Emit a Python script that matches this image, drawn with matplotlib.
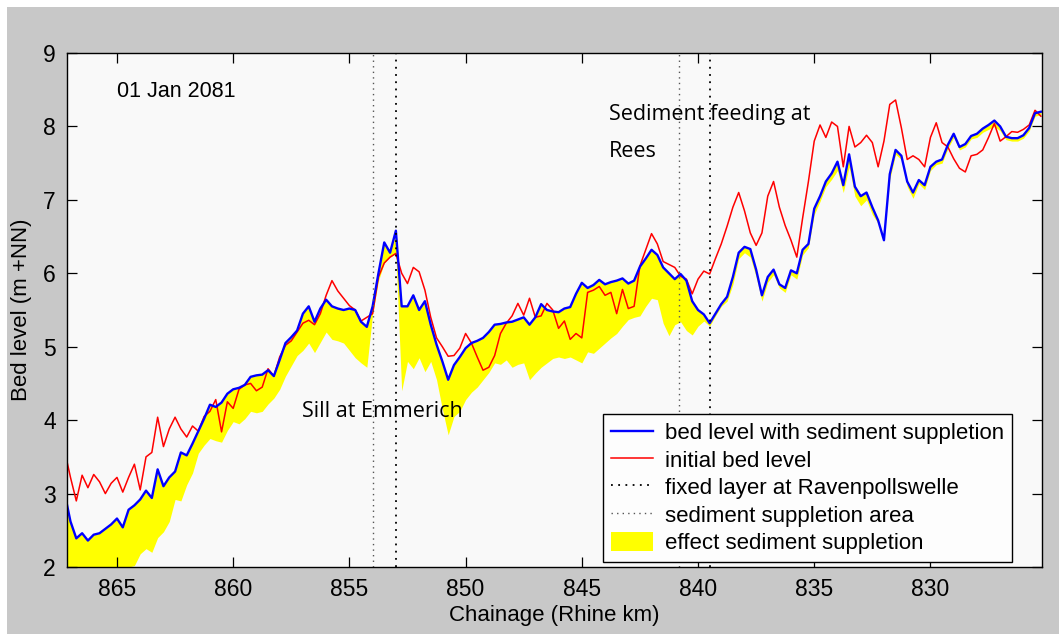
import numpy as np
import matplotlib
matplotlib.use("Agg")
import matplotlib.pyplot as plt
from matplotlib.patches import Rectangle

plt.rcParams["font.family"] = ["Liberation Sans", "DejaVu Sans"]

# Rhine km, every 0.25 km (river runs from 867 down to 825)
chainage = np.arange(867.25, 825.0, -0.25)

# bed level with sediment suppletion (m +NN)
bed_suppl = [
    3.00, 2.62, 2.39, 2.46, 2.36, 2.44, 2.46, 2.52, 2.58, 2.66,
    2.54, 2.78, 2.84, 2.92, 3.04, 2.94, 3.33, 3.10, 3.22, 3.30,
    3.56, 3.52, 3.68, 3.85, 4.02, 4.21, 4.18, 4.24, 4.36, 4.42,
    4.44, 4.48, 4.59, 4.61, 4.62, 4.68, 4.60, 4.82, 5.05, 5.13,
    5.22, 5.45, 5.55, 5.34, 5.52, 5.64, 5.55, 5.52, 5.50, 5.52,
    5.50, 5.34, 5.27, 5.55, 6.00, 6.42, 6.28, 6.58, 5.55, 5.55,
    5.70, 5.50, 5.62, 5.30, 5.03, 4.80, 4.55, 4.75, 4.86, 4.98,
    5.05, 5.08, 5.12, 5.20, 5.30, 5.31, 5.33, 5.34, 5.37, 5.40,
    5.30, 5.40, 5.58, 5.50, 5.48, 5.47, 5.52, 5.54, 5.72, 5.87,
    5.80, 5.84, 5.91, 5.85, 5.88, 5.90, 5.93, 5.86, 5.90, 6.09,
    6.20, 6.32, 6.25, 6.08, 6.00, 5.92, 5.99, 5.90, 5.62, 5.50,
    5.44, 5.32, 5.45, 5.58, 5.68, 5.95, 6.28, 6.36, 6.33, 6.05,
    5.70, 5.95, 6.05, 5.85, 5.80, 6.04, 6.00, 6.32, 6.40, 6.88,
    7.05, 7.25, 7.36, 7.52, 7.20, 7.62, 7.18, 7.05, 7.10, 6.90,
    6.72, 6.45, 7.35, 7.68, 7.60, 7.25, 7.10, 7.27, 7.20, 7.45,
    7.52, 7.55, 7.75, 7.90, 7.72, 7.76, 7.87, 7.90, 7.97, 8.02,
    8.08, 8.00, 7.86, 7.84, 7.84, 7.88, 7.98, 8.18, 8.20,
]

# initial bed level (m +NN)
bed_initial = [
    3.58, 3.22, 2.90, 3.25, 3.08, 3.26, 3.16, 3.00, 3.14, 3.22,
    3.02, 3.22, 3.40, 3.05, 3.50, 3.56, 4.04, 3.64, 3.88, 4.04,
    3.88, 3.77, 3.92, 3.85, 4.05, 4.12, 4.28, 3.84, 4.25, 4.16,
    4.42, 4.48, 4.50, 4.40, 4.45, 4.70, 4.60, 4.86, 5.02, 5.08,
    5.20, 5.32, 5.36, 5.30, 5.45, 5.70, 5.90, 5.76, 5.66, 5.56,
    5.50, 5.35, 5.40, 5.45, 5.95, 6.14, 6.22, 6.27, 6.00, 5.86,
    6.08, 6.02, 5.77, 5.40, 5.12, 5.00, 4.87, 4.88, 4.98, 5.18,
    5.05, 4.86, 4.68, 4.72, 4.88, 5.18, 5.32, 5.42, 5.59, 5.43,
    5.66, 5.40, 5.42, 5.59, 5.50, 5.25, 5.35, 5.10, 5.18, 5.12,
    5.74, 5.77, 5.82, 5.70, 5.74, 5.45, 5.78, 5.52, 5.55, 6.10,
    6.32, 6.54, 6.40, 6.16, 6.12, 6.08, 5.96, 5.92, 5.72, 5.92,
    6.03, 5.99, 6.20, 6.40, 6.64, 6.90, 7.10, 6.85, 6.55, 6.38,
    6.55, 7.05, 7.25, 6.90, 6.65, 6.45, 6.22, 6.75, 7.25, 7.80,
    8.02, 7.85, 8.06, 8.00, 7.45, 8.00, 7.72, 7.78, 7.88, 7.78,
    7.45, 7.80, 8.30, 8.36, 7.98, 7.55, 7.60, 7.55, 7.45, 7.85,
    8.05, 7.78, 7.72, 7.56, 7.43, 7.38, 7.60, 7.62, 7.68, 7.85,
    8.04, 7.80, 7.86, 7.93, 7.92, 7.96, 8.02, 8.22, 8.14,
]

# lower edge of the suppletion effect (bed level without suppletion)
bed_no_suppl = [
    2.00, 2.00, 2.00, 2.00, 2.00, 2.00, 2.00, 2.00, 2.00, 2.00,
    2.00, 2.00, 2.02, 2.18, 2.25, 2.20, 2.40, 2.48, 2.62, 2.92,
    2.90, 3.12, 3.28, 3.55, 3.66, 3.75, 3.72, 3.70, 3.86, 3.98,
    3.95, 4.02, 4.12, 4.10, 4.12, 4.22, 4.30, 4.42, 4.60, 4.74,
    4.88, 4.95, 5.05, 4.92, 5.06, 5.20, 5.10, 5.08, 5.05, 4.95,
    4.85, 4.78, 4.72, 5.45, 5.90, 6.14, 6.22, 6.27, 4.40, 4.80,
    4.70, 4.85, 4.66, 4.80, 4.55, 4.15, 3.80, 4.05, 4.12, 4.28,
    4.38, 4.45, 4.55, 4.65, 4.78, 4.76, 4.82, 4.72, 4.76, 4.78,
    4.55, 4.64, 4.72, 4.78, 4.84, 4.86, 4.84, 4.86, 4.82, 4.78,
    4.93, 4.91, 4.98, 5.05, 5.12, 5.18, 5.28, 5.37, 5.40, 5.42,
    5.55, 5.66, 5.64, 5.32, 5.15, 5.30, 5.34, 5.22, 5.16, 5.28,
    5.35, 5.28, 5.42, 5.55, 5.62, 5.85, 6.20, 6.28, 6.22, 5.95,
    5.62, 5.88, 5.98, 5.80, 5.74, 5.98, 5.92, 6.25, 6.35, 6.80,
    6.98, 7.18, 7.28, 7.40, 7.10, 7.45, 7.05, 6.92, 7.00, 6.80,
    6.68, 6.48, 7.28, 7.62, 7.55, 7.18, 7.02, 7.22, 7.14, 7.40,
    7.48, 7.50, 7.70, 7.85, 7.68, 7.72, 7.83, 7.85, 7.92, 7.96,
    8.00, 7.94, 7.82, 7.80, 7.80, 7.84, 7.94, 8.14, 8.16,
]

fixed_layer_km = [853.0, 839.5]
suppletion_km = [854.0, 840.8]

fig = plt.figure(figsize=(10.59, 6.34), dpi=100, facecolor="white")
fig.patches.append(Rectangle((7 / 1059, 0), 1, 1 - 7 / 634, transform=fig.transFigure,
                             facecolor="#c8c8c8", edgecolor="none", zorder=-10))
ax = fig.add_axes([67 / 1059, 1 - 567 / 634, 975 / 1059, 514 / 634])
ax.set_facecolor("#f9f9f9")

eff = ax.fill_between(chainage, bed_no_suppl, bed_suppl, color="#ffff00", lw=0,
                      label="effect sediment suppletion")
red, = ax.plot(chainage, bed_initial, color="#ff0000", lw=1.1, label="initial bed level")
blue, = ax.plot(chainage, bed_suppl, color="#0000ff", lw=1.7,
                label="bed level with sediment suppletion")

fixed = None
for km in fixed_layer_km:
    fixed = ax.axvline(km, color="black", lw=1.3, ls=(0, (1, 3)))
supp = None
for km in suppletion_km:
    supp = ax.axvline(km, color="#555555", lw=1.0, ls=(0, (1, 3)))
fixed.set_label("fixed layer at Ravenpollswelle")
supp.set_label("sediment suppletion area")

ax.set_xlim(867.15, 825.2)
ax.set_ylim(2, 9)
ax.set_xticks([865, 860, 855, 850, 845, 840, 835, 830])
ax.set_yticks(range(2, 10))
ax.tick_params(direction="in", top=True, right=True, length=7, width=0.9,
               labelsize=16.5, pad=8)
for s in ax.spines.values():
    s.set_linewidth(1.0)

ax.set_xlabel("Chainage (Rhine km)", fontsize=16, labelpad=3)
ax.set_ylabel("Bed level (m +NN)", fontsize=16, labelpad=8)

ax.text(865.0, 8.48, "01 Jan 2081", fontsize=15.5, va="center", ha="left")
ax.text(857.04, 4.04, "Sill at Emmerich", fontsize=15.5, family="Open Sans",
        va="baseline", ha="left")
ax.text(843.84, 8.09, "Sediment feeding at", fontsize=15.5, family="Open Sans",
        va="baseline", ha="left")
ax.text(843.84, 7.58, "Rees", fontsize=15.5, family="Open Sans",
        va="baseline", ha="left")

leg = ax.legend([blue, red, fixed, supp, eff],
                [blue.get_label(), red.get_label(), fixed.get_label(),
                 supp.get_label(), eff.get_label()],
                loc="upper left", bbox_to_anchor=(0.5497, 0.2977),
                borderaxespad=0, fontsize=16, frameon=True, fancybox=False,
                handlelength=1.9, handleheight=1.0, labelspacing=0.22,
                borderpad=0.35, handletextpad=0.55)
leg.get_frame().set_edgecolor("black")
leg.get_frame().set_linewidth(1.0)
leg.get_frame().set_facecolor("#fdfdfd")
leg.get_frame().set_alpha(1)

fig.savefig("out.png", dpi=100, facecolor=fig.get_facecolor())
